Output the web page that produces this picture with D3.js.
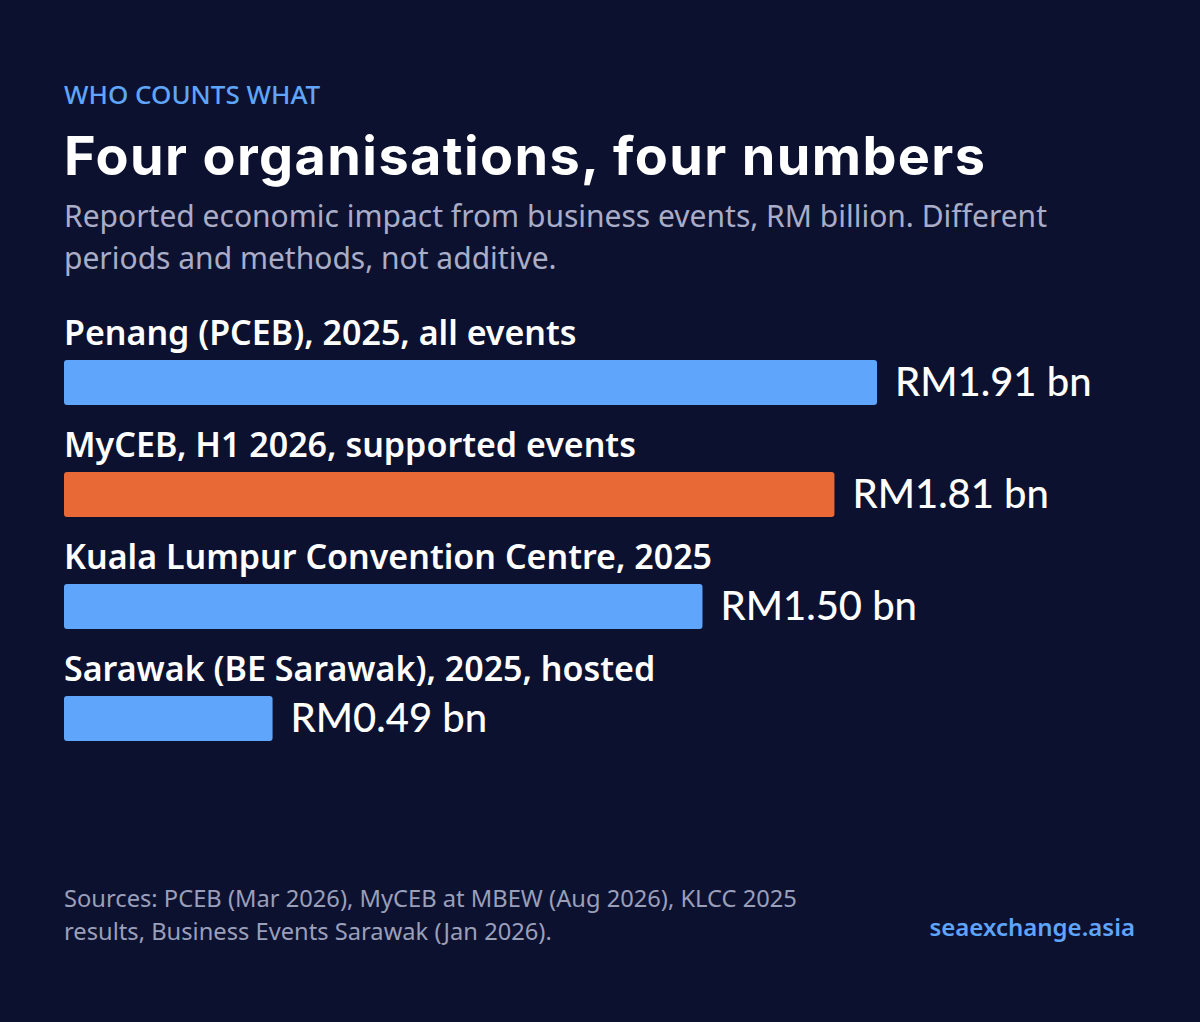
<!DOCTYPE html>
<html><head><meta charset="utf-8">
<script src="https://cdn.jsdelivr.net/npm/d3@7"></script>
<style>body{margin:0;background:#0d1130}</style>
</head><body>
<script>
const labels = ["Penang (PCEB), 2025, all events","MyCEB, H1 2026, supported events","Kuala Lumpur Convention Centre, 2025","Sarawak (BE Sarawak), 2025, hosted"];
const values = [1.91, 1.81, 1.50, 0.49];
const valueText = ["RM1.91 bn","RM1.81 bn","RM1.50 bn","RM0.49 bn"];
const highlight = [false, true, false, false];

const svg = d3.select("body").append("svg").attr("width",1200).attr("height",1022);
svg.append("rect").attr("width",1200).attr("height",1022).attr("fill","#0d1130");

const sans = "'Source Sans Pro','Noto Sans',sans-serif";
const t = (x,y,s,size,fill,weight,font,anchor) => svg.append("text").attr("x",x).attr("y",y).text(s)
  .attr("font-size",size).attr("fill",fill).attr("font-weight",weight||400)
  .attr("font-family",font||sans).attr("text-anchor",anchor||"start");

t(64,104,"WHO COUNTS WHAT",26,"#5ea5fb",500);
t(64,175,"Four organisations, four numbers",54,"#ffffff",700,"Inter").attr("textLength",921).attr("lengthAdjust","spacing");
t(64,227,"Reported economic impact from business events, RM billion. Different",30,"#a9adc8");
t(64,269,"periods and methods, not additive.",30,"#a9adc8");

const x = d3.scaleLinear().domain([0,1.91]).range([64,877]);
const y = d3.scaleBand().domain(d3.range(labels.length)).range([315,763]);

const g = svg.selectAll("g.row").data(values).join("g").attr("class","row")
  .attr("transform",(d,i)=>`translate(0,${y(i)})`);
g.append("text").attr("x",64).attr("y",30).text((d,i)=>labels[i])
  .attr("font-size",34).attr("font-weight",600).attr("fill","#ffffff").attr("font-family",sans);
g.append("rect").attr("x",x(0)).attr("y",45).attr("height",45).attr("rx",3)
  .attr("width",d=>x(d)-x(0)).attr("fill",(d,i)=>highlight[i]?"#e86836":"#5ea5fb");
g.append("text").attr("x",d=>x(d)+18).attr("y",81).text((d,i)=>valueText[i])
  .attr("font-size",40).attr("font-weight",500).attr("fill","#ffffff").attr("font-family","Lato, sans-serif");

t(64,907,"Sources: PCEB (Mar 2026), MyCEB at MBEW (Aug 2026), KLCC 2025",23.7,"#9a9fba");
t(64,940,"results, Business Events Sarawak (Jan 2026).",23.7,"#9a9fba");
t(1135,936,"seaexchange.asia",24,"#5ea5fb",600,sans,"end");
</script>
</body></html>
